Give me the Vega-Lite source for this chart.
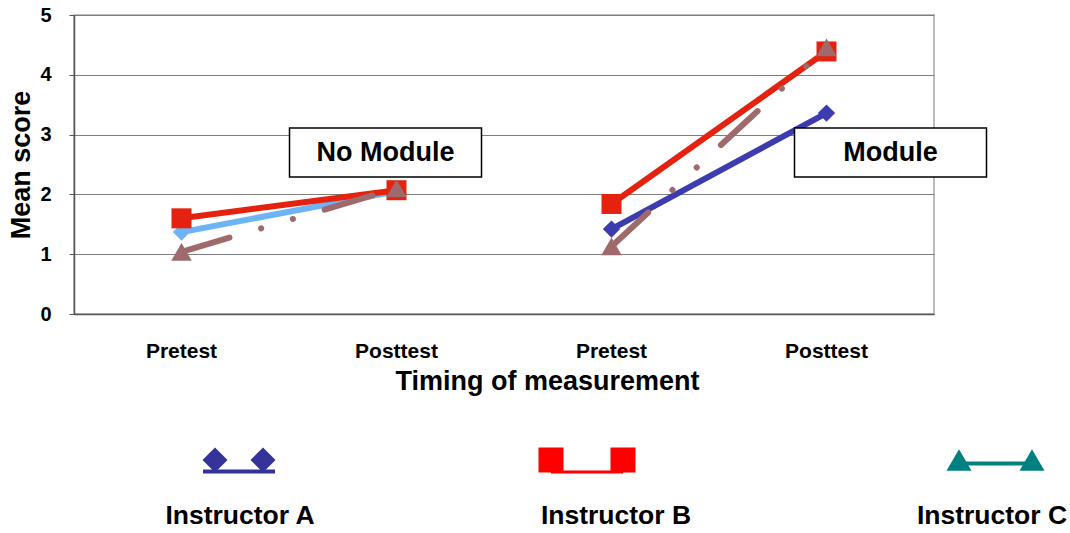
{
  "$schema": "https://vega.github.io/schema/vega-lite/v6.json",
  "padding": {"left": 7, "top": 4, "right": 0, "bottom": 0},
  "spacing": 52,
  "resolve": {"scale": {"color": "independent", "shape": "independent"}},
  "config": {
    "font": "Liberation Sans",
    "view": {"stroke": null},
    "axis": {"labelColor": "#000", "titleColor": "#000", "labelFont": "Liberation Sans", "titleFont": "Liberation Sans"}
  },
  "datasets": {
    "scores": [
      {"inst": "A", "series": "A (No Module)", "cond": "No Module", "slot": "No Module: Pretest", "score": 1.37},
      {"inst": "A", "series": "A (No Module)", "cond": "No Module", "slot": "No Module: Posttest", "score": 2.05},
      {"inst": "A", "series": "A (Module)", "cond": "Module", "slot": "Module: Pretest", "score": 1.42},
      {"inst": "A", "series": "A (Module)", "cond": "Module", "slot": "Module: Posttest", "score": 3.36},
      {"inst": "B", "series": "B", "cond": "No Module", "slot": "No Module: Pretest", "score": 1.6},
      {"inst": "B", "series": "B", "cond": "No Module", "slot": "No Module: Posttest", "score": 2.07},
      {"inst": "B", "series": "B", "cond": "Module", "slot": "Module: Pretest", "score": 1.84},
      {"inst": "B", "series": "B", "cond": "Module", "slot": "Module: Posttest", "score": 4.39},
      {"inst": "C", "series": "C", "cond": "No Module", "slot": "No Module: Pretest", "score": 1.04},
      {"inst": "C", "series": "C", "cond": "No Module", "slot": "No Module: Posttest", "score": 2.1},
      {"inst": "C", "series": "C", "cond": "Module", "slot": "Module: Pretest", "score": 1.13},
      {"inst": "C", "series": "C", "cond": "Module", "slot": "Module: Posttest", "score": 4.46}
    ],
    "boxes": [
      {"label": "No Module", "slot": "No Module: Posttest", "top": 3.11, "bottom": 2.29, "mid": 2.7},
      {"label": "Module", "slot": "Module: Posttest", "top": 3.11, "bottom": 2.29, "mid": 2.7}
    ],
    "legendSymbols": [
      {"inst": "A", "side": "L", "part": "symbol"},
      {"inst": "A", "side": "R", "part": "symbol"},
      {"inst": "B", "side": "L", "part": "symbol"},
      {"inst": "B", "side": "R", "part": "symbol"},
      {"inst": "C", "side": "L", "part": "symbol"},
      {"inst": "C", "side": "R", "part": "symbol"}
    ],
    "legendLabels": [
      {"inst": "A", "label": "Instructor A", "part": "label"},
      {"inst": "B", "label": "Instructor B", "part": "label"},
      {"inst": "C", "label": "Instructor C", "part": "label"}
    ]
  },
  "vconcat": [
    {
      "width": 860,
      "height": 299,
      "view": {"stroke": "#a6a6a6", "strokeWidth": 1.5},
      "encoding": {
        "x": {
          "field": "slot", "type": "nominal",
          "scale": {"type": "band", "paddingInner": 0, "paddingOuter": 0,
            "domain": ["No Module: Pretest", "No Module: Posttest", "Module: Pretest", "Module: Posttest"]},
          "axis": {
            "title": "Timing of measurement",
            "labelExpr": "split(datum.label, ': ')[1]",
            "labelAngle": 0, "ticks": false,
            "labelFontSize": 21, "labelFontWeight": "bold", "labelPadding": 26,
            "domainColor": "#555", "domainWidth": 1.5,
            "titleFontSize": 27, "titleFontWeight": "bold", "titlePadding": 7,
            "titleX": 473
          }
        }
      },
      "layer": [
        {
          "data": {"name": "scores"},
          "transform": [{"filter": "datum.inst === 'A'"}],
          "mark": {"type": "line", "strokeWidth": 6},
          "encoding": {
            "y": {"field": "score", "type": "quantitative",
              "scale": {"domain": [0, 5], "nice": false},
              "axis": {
                "values": [0, 1, 2, 3, 4, 5], "format": "d", "grid": true, "gridColor": "#7f7f7f", "gridWidth": 1.2,
                "tickSize": 5, "tickColor": "#555", "domainColor": "#555", "domainWidth": 1.5,
                "labelFontSize": 20, "labelFontWeight": "bold", "labelPadding": 18,
                "title": "Mean score", "titleFontSize": 27, "titleFontWeight": "bold", "titlePadding": 4
              }},
            "color": {"field": "series", "type": "nominal", "legend": null,
              "scale": {"domain": ["A (No Module)", "A (Module)", "B", "C"], "range": ["#6CB4F7", "#3C3CAE", "#E4220F", "#9E6A6C"]}},
            "detail": {"field": "cond"}
          }
        },
        {
          "data": {"name": "scores"},
          "transform": [{"filter": "datum.inst === 'A'"}],
          "mark": {"type": "point", "filled": true, "opacity": 1, "shape": "diamond", "size": 300},
          "encoding": {
            "y": {"field": "score", "type": "quantitative"},
            "color": {"field": "series", "type": "nominal", "legend": null}
          }
        },
        {
          "data": {"name": "scores"},
          "transform": [{"filter": "datum.inst === 'B'"}],
          "mark": {"type": "line", "strokeWidth": 6},
          "encoding": {
            "y": {"field": "score", "type": "quantitative"},
            "color": {"field": "series", "type": "nominal", "legend": null},
            "detail": {"field": "cond"}
          }
        },
        {
          "data": {"name": "scores"},
          "transform": [{"filter": "datum.inst === 'B'"}],
          "mark": {"type": "point", "filled": true, "opacity": 1, "shape": "square", "size": 400},
          "encoding": {
            "y": {"field": "score", "type": "quantitative"},
            "color": {"field": "series", "type": "nominal", "legend": null}
          }
        },
        {
          "data": {"name": "scores"},
          "transform": [{"filter": "datum.inst === 'C'"}],
          "mark": {"type": "line", "strokeWidth": 6, "strokeCap": "round", "strokeDash": [50, 33, 0.1, 33, 0.1, 33]},
          "encoding": {
            "y": {"field": "score", "type": "quantitative"},
            "color": {"field": "series", "type": "nominal", "legend": null},
            "detail": {"field": "cond"}
          }
        },
        {
          "data": {"name": "scores"},
          "transform": [{"filter": "datum.inst === 'C'"}],
          "mark": {"type": "point", "filled": true, "opacity": 1, "shape": "triangle-up", "size": 420},
          "encoding": {
            "y": {"field": "score", "type": "quantitative"},
            "color": {"field": "series", "type": "nominal", "legend": null}
          }
        },
        {
          "data": {"name": "boxes"},
          "transform": [{"filter": "datum.label === 'No Module'"}],
          "mark": {"type": "bar", "width": 192, "fill": "#ffffff", "stroke": "#000", "strokeWidth": 1.5, "xOffset": -11},
          "encoding": {
            "y": {"field": "top", "type": "quantitative"},
            "y2": {"field": "bottom"}
          }
        },
        {
          "data": {"name": "boxes"},
          "transform": [{"filter": "datum.label === 'No Module'"}],
          "mark": {"type": "text", "fontSize": 27, "fontWeight": "bold", "color": "#000", "dx": -11},
          "encoding": {
            "y": {"field": "mid", "type": "quantitative"},
            "text": {"field": "label"}
          }
        },
        {
          "data": {"name": "boxes"},
          "transform": [{"filter": "datum.label === 'Module'"}],
          "mark": {"type": "bar", "width": 192, "fill": "#ffffff", "stroke": "#000", "strokeWidth": 1.5, "xOffset": 64},
          "encoding": {
            "y": {"field": "top", "type": "quantitative"},
            "y2": {"field": "bottom"}
          }
        },
        {
          "data": {"name": "boxes"},
          "transform": [{"filter": "datum.label === 'Module'"}],
          "mark": {"type": "text", "fontSize": 27, "fontWeight": "bold", "color": "#000", "dx": 64},
          "encoding": {
            "y": {"field": "mid", "type": "quantitative"},
            "text": {"field": "label"}
          }
        }
      ]
    },
    {
      "width": 990,
      "height": 56,
      "encoding": {
        "x": {"field": "inst", "type": "nominal", "axis": null,
          "scale": {"type": "band", "domain": ["A", "B", "C"], "paddingInner": 0.367, "paddingOuter": 0}},
        "y": {"field": "part", "type": "nominal", "axis": null,
          "scale": {"type": "point", "domain": ["symbol", "label"], "padding": 0}}
      },
      "resolve": {"scale": {"xOffset": "independent", "color": "independent"}},
      "layer": [
        {
          "data": {"name": "legendSymbols"},
          "transform": [{"filter": "datum.inst === 'A'"}],
          "mark": {"type": "line", "strokeWidth": 4, "color": "#333399", "yOffset": 11.5},
          "encoding": {
            "xOffset": {"field": "side", "type": "nominal", "scale": {"domain": ["L", "R"], "range": [129, 201], "paddingInner": 0, "paddingOuter": 0}},
            "detail": {"field": "inst"}
          }
        },
        {
          "data": {"name": "legendSymbols"},
          "transform": [{"filter": "datum.inst === 'B'"}],
          "mark": {"type": "line", "strokeWidth": 3, "color": "#FF0000", "yOffset": 12},
          "encoding": {
            "xOffset": {"field": "side", "type": "nominal", "scale": {"domain": ["L", "R"], "range": [101, 173], "paddingInner": 0, "paddingOuter": 0}},
            "detail": {"field": "inst"}
          }
        },
        {
          "data": {"name": "legendSymbols"},
          "transform": [{"filter": "datum.inst === 'C'"}],
          "mark": {"type": "line", "strokeWidth": 4, "color": "#008080", "yOffset": 3.5},
          "encoding": {
            "xOffset": {"field": "side", "type": "nominal", "scale": {"domain": ["L", "R"], "range": [133, 206], "paddingInner": 0, "paddingOuter": 0}},
            "detail": {"field": "inst"}
          }
        },
        {
          "data": {"name": "legendSymbols"},
          "transform": [{"filter": "datum.inst === 'A'"}],
          "mark": {"type": "point", "filled": true, "opacity": 1, "size": 625, "shape": "diamond", "color": "#333399"},
          "encoding": {
            "xOffset": {"field": "side", "type": "nominal", "scale": {"domain": ["L", "R"], "range": [141, 189], "paddingInner": 0, "paddingOuter": 0}}
          }
        },
        {
          "data": {"name": "legendSymbols"},
          "transform": [{"filter": "datum.inst === 'B'"}],
          "mark": {"type": "point", "filled": true, "opacity": 1, "size": 625, "shape": "square", "color": "#FF0000"},
          "encoding": {
            "xOffset": {"field": "side", "type": "nominal", "scale": {"domain": ["L", "R"], "range": [101, 173], "paddingInner": 0, "paddingOuter": 0}}
          }
        },
        {
          "data": {"name": "legendSymbols"},
          "transform": [{"filter": "datum.inst === 'C'"}],
          "mark": {"type": "point", "filled": true, "opacity": 1, "size": 625, "shape": "triangle-up", "color": "#008080"},
          "encoding": {
            "xOffset": {"field": "side", "type": "nominal", "scale": {"domain": ["L", "R"], "range": [133, 206], "paddingInner": 0, "paddingOuter": 0}}
          }
        },
        {
          "data": {"name": "legendLabels"},
          "mark": {"type": "text", "fontSize": 26.5, "fontWeight": "bold", "color": "#000", "xOffset": 47},
          "encoding": {"text": {"field": "label"}}
        }
      ]
    }
  ]
}
